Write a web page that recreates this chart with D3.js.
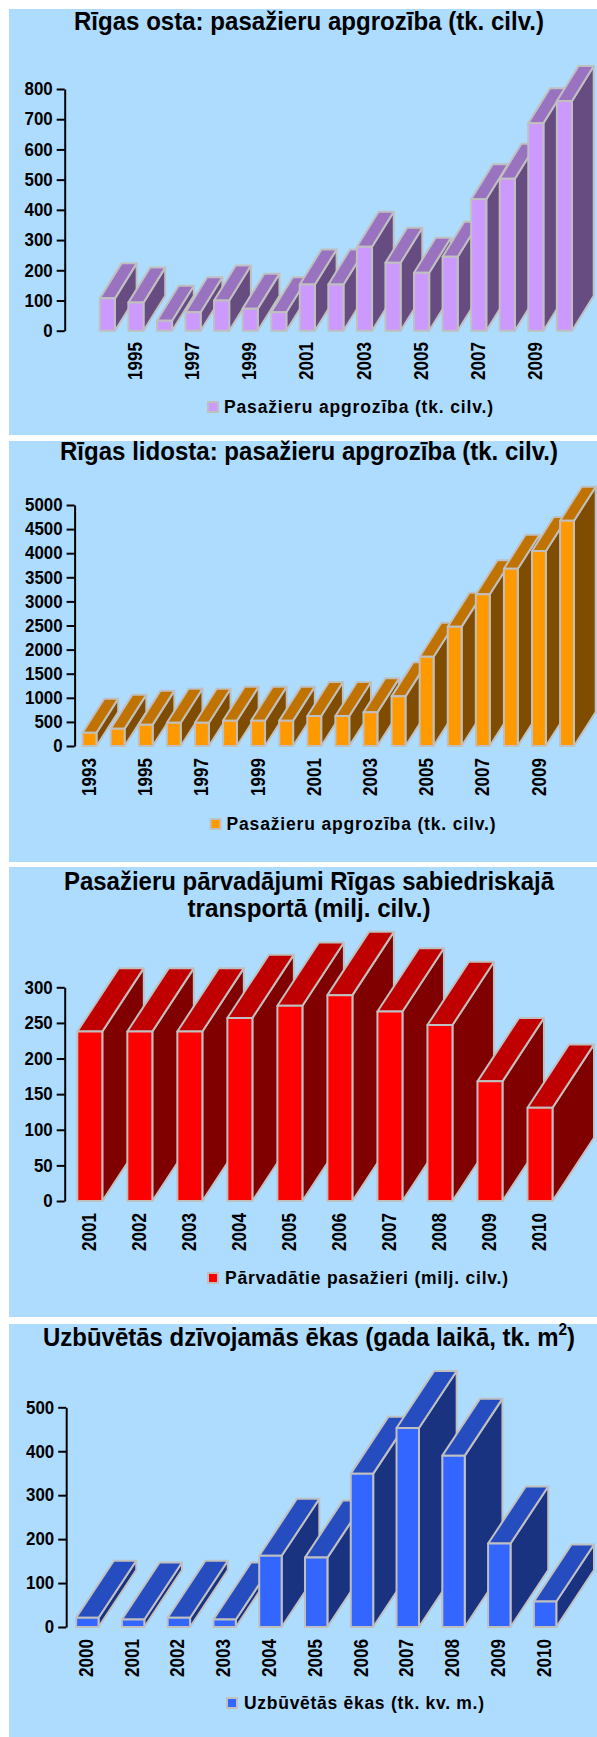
<html>

<head>
  <script src="https://d3js.org/d3.v7.min.js"></script>
  <style>
    body { margin: 0; background: #fff; }
    svg { display: block; }
    text { font-family: "Liberation Sans", Arial, sans-serif; font-weight: bold; fill: #000; }
  </style>
</head>

<body>
  <svg id="page" width="597" height="1737"></svg>

  <script>
    // values
    const ostaYears = [1994, 1995, 1996, 1997, 1998, 1999, 2000, 2001, 2002, 2003, 2004, 2005, 2006, 2007, 2008, 2009, 2010];
    const ostaValues = [107, 93, 33, 61, 100, 73, 61, 153, 153, 278, 225, 192, 245, 435, 503, 687, 760];
    const ostaTicks = [1995, 1997, 1999, 2001, 2003, 2005, 2007, 2009];

    const lidostaYears = [1993, 1994, 1995, 1996, 1997, 1998, 1999, 2000, 2001, 2002, 2003, 2004, 2005, 2006, 2007, 2008, 2009, 2010];
    const lidostaValues = [277, 360, 443, 484, 484, 526, 526, 526, 622, 622, 698, 1030, 1853, 2476, 3147, 3679, 4046, 4675];
    const lidostaTicks = [1993, 1995, 1997, 1999, 2001, 2003, 2005, 2007, 2009];

    const transportYears = [2001, 2002, 2003, 2004, 2005, 2006, 2007, 2008, 2009, 2010];
    const transportValues = [238, 238, 238, 257, 274, 289, 266, 247, 168, 131];

    const ekasYears = [2000, 2001, 2002, 2003, 2004, 2005, 2006, 2007, 2008, 2009, 2010];
    const ekasValues = [21, 17, 21, 17, 162, 158, 349, 453, 390, 190, 58];

    const svg = d3.select("#page");

    function drawChart(c) {
      const g = svg.append("g");

      g.append("rect")
        .attr("x", 9).attr("y", c.panel[0])
        .attr("width", 588).attr("height", c.panel[1] - c.panel[0])
        .attr("fill", "#aedcff");

      c.title.forEach(t => {
        const txt = g.append("text")
          .attr("x", 309).attr("y", t.y)
          .attr("text-anchor", "middle")
          .attr("font-size", 25)
          .attr("textLength", t.len)
          .attr("lengthAdjust", "spacingAndGlyphs");
        txt.append("tspan").text(t.text);
        if (t.sup) {
          txt.append("tspan").attr("dy", -11).attr("font-size", 16).text(t.sup);
          txt.append("tspan").attr("dy", 11).text(t.after);
        }
      });

      const x = d3.scaleBand()
        .domain(c.years)
        .range([c.x0, c.x1])
        .paddingInner(c.gap)
        .paddingOuter(0);

      const y = d3.scaleLinear()
        .domain([0, c.yMax])
        .range([c.yBottom, c.yTop]);

      const w = x.bandwidth();
      const colors = c.colors;

      const bars = g.selectAll("g.bar").data(c.years.map((d, i) => ({ year: d, value: c.values[i] })))
        .join("g")
        .attr("class", "bar")
        .attr("stroke", "#c0c0c0")
        .attr("stroke-width", 2)
        .attr("stroke-linejoin", "round");

      bars.append("path")
        .attr("fill", colors[2])
        .attr("d", d => {
          const l = x(d.year) + w, t = y(d.value), b = y(0);
          return `M${l},${t}L${l + c.dx},${t - c.dy}L${l + c.dx},${b - c.dy}L${l},${b}Z`;
        });

      bars.append("path")
        .attr("fill", colors[1])
        .attr("d", d => {
          const l = x(d.year), t = y(d.value);
          return `M${l},${t}L${l + c.dx},${t - c.dy}L${l + w + c.dx},${t - c.dy}L${l + w},${t}Z`;
        });

      bars.append("rect")
        .attr("fill", colors[0])
        .attr("x", d => x(d.year))
        .attr("y", d => y(d.value))
        .attr("width", w)
        .attr("height", d => y(0) - y(d.value));

      const yAxis = g.append("g")
        .attr("transform", `translate(${c.axisX},0)`)
        .call(d3.axisLeft(y)
          .tickValues(d3.range(0, c.yMax + 1, c.yStep))
          .tickFormat(d3.format("d"))
          .tickSize(8).tickPadding(4).tickSizeOuter(0));
      yAxis.select(".domain").attr("stroke", "#000").attr("stroke-width", 2);
      yAxis.selectAll("line").attr("stroke", "#000").attr("stroke-width", 2);
      yAxis.selectAll("text")
        .attr("font-size", 18)
        .attr("font-family", null)
        .attr("textLength", d => String(d).length * 9.4)
        .attr("lengthAdjust", "spacingAndGlyphs");

      const xAxis = g.append("g")
        .attr("transform", `translate(${c.labelShift},${c.labelTop})`)
        .call(d3.axisBottom(x).tickValues(c.ticks).tickFormat(d3.format("d")).tickSize(0).tickPadding(0));
      xAxis.select(".domain").remove();
      xAxis.selectAll("text")
        .attr("font-size", 21)
        .attr("font-family", null)
        .attr("transform", "rotate(-90)")
        .attr("text-anchor", "end")
        .attr("textLength", 38)
        .attr("lengthAdjust", "spacingAndGlyphs")
        .attr("x", 0)
        .attr("y", 0)
        .attr("dy", "0.36em");

      g.append("rect")
        .attr("x", c.legend.x).attr("y", c.legend.y)
        .attr("width", 10).attr("height", 10)
        .attr("fill", colors[0])
        .attr("stroke", "#c0c0c0")
        .attr("stroke-width", 2);

      g.append("text")
        .attr("x", c.legend.tx).attr("y", c.legend.y + 11)
        .attr("font-size", 17.5)
        .attr("textLength", c.legend.len)
        .attr("lengthAdjust", "spacing")
        .text(c.legend.text);
    }

    drawChart({
      panel: [9, 435],
      title: [{ text: "Rīgas osta: pasažieru apgrozība (tk. cilv.)", y: 30, len: 470 }],
      years: ostaYears, values: ostaValues, ticks: ostaTicks,
      x0: 99.8, x1: 572, gap: 0.47,
      yMax: 800, yStep: 100, yBottom: 330.7, yTop: 89,
      axisX: 64.7, dx: 21.7, dy: 35,
      labelShift: -1.5, labelTop: 342,
      colors: ["#cc99ff", "#9a73c0", "#664c80"],
      legend: { x: 208, y: 402, tx: 224, len: 269, text: "Pasažieru apgrozība (tk. cilv.)" }
    });

    drawChart({
      panel: [441, 862],
      title: [{ text: "Rīgas lidosta: pasažieru apgrozība (tk. cilv.)", y: 460, len: 498 }],
      years: lidostaYears, values: lidostaValues, ticks: lidostaTicks,
      x0: 82.6, x1: 574, gap: 0.505,
      yMax: 5000, yStep: 500, yBottom: 746, yTop: 505,
      axisX: 74.6, dx: 21.7, dy: 34,
      labelShift: -1, labelTop: 758,
      colors: ["#ff9900", "#c07300", "#804c00"],
      legend: { x: 210.5, y: 819, tx: 226.5, len: 269, text: "Pasažieru apgrozība (tk. cilv.)" }
    });

    drawChart({
      panel: [867, 1317],
      title: [
        { text: "Pasažieru pārvadājumi Rīgas sabiedriskajā", y: 890, len: 490 },
        { text: "transportā (milj. cilv.)", y: 917, len: 243 }
      ],
      years: transportYears, values: transportValues, ticks: transportYears,
      x0: 77.3, x1: 552.5, gap: 0.5,
      yMax: 300, yStep: 50, yBottom: 1201, yTop: 987.3,
      axisX: 64.7, dx: 41.5, dy: 63.3,
      labelShift: -1.5, labelTop: 1213,
      colors: ["#ff0000", "#c00000", "#800000"],
      legend: { x: 208, y: 1273, tx: 225, len: 283, text: "Pārvadātie pasažieri (milj. cilv.)" }
    });

    drawChart({
      panel: [1324, 1737],
      title: [{ text: "Uzbūvētās dzīvojamās ēkas (gada laikā, tk. m", sup: "2", after: ")", y: 1345.5, len: 532 }],
      years: ekasYears, values: ekasValues, ticks: ekasYears,
      x0: 76.1, x1: 556.3, gap: 0.51,
      yMax: 500, yStep: 100, yBottom: 1627, yTop: 1407.3,
      axisX: 66.2, dx: 37.7, dy: 57,
      labelShift: -2, labelTop: 1639,
      colors: ["#3366ff", "#264dc0", "#1a3380"],
      legend: { x: 227, y: 1698, tx: 244, len: 240, text: "Uzbūvētās ēkas (tk. kv. m.)" }
    });
  </script>
</body>

</html>
